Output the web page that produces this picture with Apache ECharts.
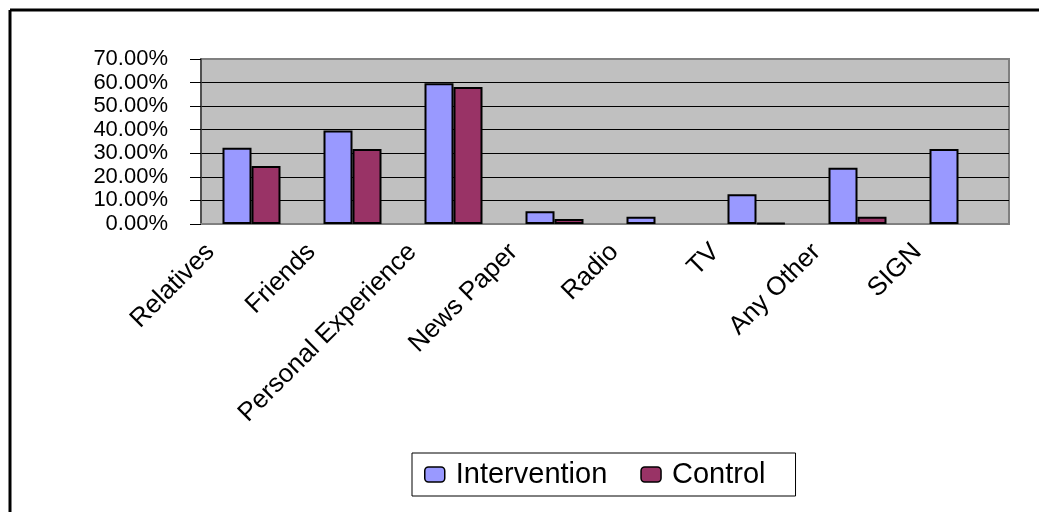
<!DOCTYPE html>
<html>
<head>
<meta charset="utf-8">
<script src="https://cdn.jsdelivr.net/npm/echarts@6/dist/echarts.min.js"></script>
<style>
  html, body { margin: 0; padding: 0; background: #fff; }
  #chart { width: 1039px; height: 512px; }
</style>
</head>
<body>
<div id="chart"></div>
<script>
// 数据
const categories = ['Relatives', 'Friends', 'Personal Experience', 'News Paper', 'Radio', 'TV', 'Any Other', 'SIGN']
const intervention = [0.324, 0.397, 0.597, 0.054, 0.031, 0.126, 0.239, 0.318]
const control = [0.246, 0.318, 0.581, 0.021, 0, 0.005, 0.031, 0]
const yTicks = { min: 0, max: 0.7, step: 0.1 }

const font = '"Liberation Sans", Arial, sans-serif'
const chart = echarts.init(document.getElementById('chart'))

// 0 值在 Excel 里不画柱子
const noZero = arr => arr.map(v => (v === 0 ? '-' : v))

const option = {
  animation: false,
  backgroundColor: '#ffffff',
  textStyle: { fontFamily: font },
  // 外框只有左边和上边
  graphic: [
    { type: 'line', shape: { x1: 10, y1: 10, x2: 1039, y2: 10 }, style: { stroke: '#000', lineWidth: 3 } },
    { type: 'line', shape: { x1: 10, y1: 10, x2: 10, y2: 512 }, style: { stroke: '#000', lineWidth: 3 } }
  ],
  grid: {
    left: 201,
    top: 59,
    right: 30,
    bottom: 288,
    show: true,
    backgroundColor: '#C0C0C0',
    borderColor: '#808080',
    borderWidth: 2
  },
  legend: {
    left: 412,
    top: 453,
    orient: 'horizontal',
    borderColor: '#000',
    borderWidth: 1,
    borderRadius: 0,
    padding: [7, 30, 7, 12],
    itemGap: 33,
    itemWidth: 20,
    itemHeight: 15,
    textStyle: { fontFamily: font, fontSize: 29, color: '#000', padding: [0, 0, 0, 6] },
    data: [
      { name: 'Intervention', itemStyle: { borderColor: '#000', borderWidth: 1.5 } },
      { name: 'Control', itemStyle: { borderColor: '#000', borderWidth: 1.5 } }
    ]
  },
  xAxis: {
    type: 'category',
    data: categories,
    axisTick: { show: false },
    axisLine: { lineStyle: { color: '#808080', width: 2 } },
    axisLabel: {
      interval: 0,
      rotate: 45,
      margin: -17,
      fontFamily: font,
      fontSize: 26,
      color: '#000',
      padding: [0, 58, 73, 0]
    }
  },
  yAxis: {
    type: 'value',
    min: yTicks.min,
    max: yTicks.max,
    interval: yTicks.step,
    axisLine: { show: true, lineStyle: { color: '#404040', width: 1.5 } },
    axisTick: { show: true, length: 11, lineStyle: { color: '#000' } },
    axisLabel: {
      margin: 33,
      fontFamily: font,
      fontSize: 22,
      lineHeight: 20,
      color: '#000',
      showMinLabel: true,
      showMaxLabel: true,
      hideOverlap: false,
      formatter: v => (v * 100).toFixed(2) + '%'
    },
    splitLine: { show: true, showMaxLine: false, lineStyle: { color: '#000', width: 1 } }
  },
  series: [
    {
      name: 'Intervention',
      type: 'bar',
      barWidth: 29,
      barGap: '0%',
      itemStyle: { color: '#9999FF', borderColor: '#000', borderWidth: 2 },
      data: noZero(intervention)
    },
    {
      name: 'Control',
      type: 'bar',
      barWidth: 29,
      barGap: '0%',
      itemStyle: { color: '#993366', borderColor: '#000', borderWidth: 2 },
      data: noZero(control)
    }
  ]
}
chart.setOption(option)
</script>
</body>
</html>
